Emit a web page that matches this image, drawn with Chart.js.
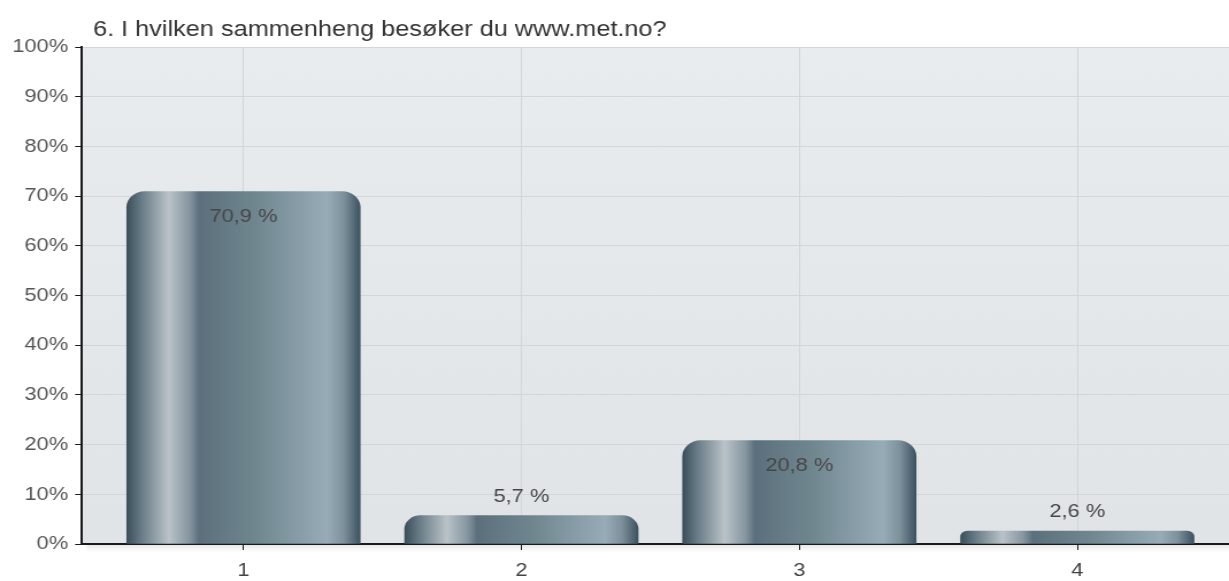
<!DOCTYPE html>
<html>
<head>
  <meta charset="utf-8">
  <script src="https://cdn.jsdelivr.net/npm/chart.js"></script>
  <style>
    html, body { margin: 0; padding: 0; background: #fff; overflow: hidden; }
    /* the original export is stretched sideways, so draw narrow and widen */
    #wrap { width: 1069px; height: 581px; transform: scaleX(1.1497); transform-origin: 0 0; }
  </style>
</head>
<body>
  <div id="wrap"><canvas id="surveyChart"></canvas></div>
  <script>
    const chartTitle = '6. I hvilken sammenheng besøker du www.met.no?';
    const categories = [1, 2, 3, 4];
    const shares = [70.9, 5.7, 20.8, 2.6];
    const shareLabels = ['70,9 %', '5,7 %', '20,8 %', '2,6 %'];
    const yTicks = [0, 10, 20, 30, 40, 50, 60, 70, 80, 90, 100];

    const FONT = "'Liberation Sans', Arial, sans-serif";
    const BAR_W = 203;

    // bar fill: metallic cylinder look, built per bar from its pixel span
    function barFill(ctx) {
      const chart = ctx.chart;
      const xs = chart.scales.x;
      if (!xs || ctx.dataIndex === undefined) return '#6d828e';
      const cx = xs.getPixelForValue(categories[ctx.dataIndex]);
      if (!isFinite(cx)) return '#6d828e';
      const half = BAR_W / 2;
      const g = chart.ctx.createLinearGradient(cx - half, 0, cx + half, 0);
      g.addColorStop(0, '#3b4f5b');
      g.addColorStop(0.06, '#667a85');
      g.addColorStop(0.18, '#bac3c8');
      g.addColorStop(0.27, '#8595a0');
      g.addColorStop(0.31, '#5b707c');
      g.addColorStop(0.55, '#70868f');
      g.addColorStop(0.86, '#97acb7');
      g.addColorStop(0.93, '#7d919c');
      g.addColorStop(1, '#3d5260');
      return g;
    }

    const plotBackground = {
      id: 'plotBackground',
      beforeDraw(chart) {
        const { ctx, chartArea: a } = chart;
        const g = ctx.createLinearGradient(0, a.top, 0, a.bottom);
        g.addColorStop(0, '#e9ecef');
        g.addColorStop(1, '#e1e4e7');
        ctx.save();
        ctx.fillStyle = g;
        ctx.fillRect(a.left, a.top, a.right - a.left, a.bottom - a.top);
        // soft shadow under the base line
        const s = ctx.createLinearGradient(0, a.bottom, 0, a.bottom + 8);
        s.addColorStop(0, 'rgba(0,0,0,0.10)');
        s.addColorStop(1, 'rgba(0,0,0,0)');
        ctx.fillStyle = s;
        ctx.fillRect(a.left + 4, a.bottom, a.right - a.left, 8);
        ctx.restore();
      }
    };

    const titleText = {
      id: 'titleText',
      afterDraw(chart) {
        const { ctx, chartArea: a } = chart;
        ctx.save();
        ctx.font = '22px ' + FONT;
        ctx.fillStyle = '#333';
        ctx.textBaseline = 'middle';
        ctx.fillText(chartTitle, a.left + 9.6, 30);
        ctx.restore();
      }
    };

    const valueLabels = {
      id: 'valueLabels',
      afterDatasetsDraw(chart) {
        const { ctx } = chart;
        const meta = chart.getDatasetMeta(0);
        ctx.save();
        ctx.font = '19px ' + FONT;
        ctx.fillStyle = '#474747';
        ctx.textAlign = 'center';
        ctx.textBaseline = 'middle';
        meta.data.forEach((bar, i) => {
          const h = bar.base - bar.y;
          const y = h > 60 ? bar.y + 25 : bar.y - 19;
          ctx.fillText(shareLabels[i], bar.x, y);
        });
        ctx.restore();
      }
    };

    new Chart(document.getElementById('surveyChart'), {
      type: 'bar',
      data: {
        datasets: [{
          data: categories.map((c, i) => ({ x: c, y: shares[i] })),
          backgroundColor: barFill,
          borderRadius: { topLeft: 16, topRight: 16 },
          borderSkipped: 'start',
          barThickness: BAR_W
        }]
      },
      options: {
        responsive: true,
        maintainAspectRatio: false,
        animation: false,
        layout: { padding: { top: 47, right: 0, left: 0, bottom: 0 } },
        plugins: {
          legend: { display: false },
          tooltip: { enabled: false }
        },
        scales: {
          x: {
            type: 'linear',
            offset: false,
            min: 0.419,
            max: 4.546,
            afterBuildTicks: s => { s.ticks = categories.map(v => ({ value: v })); },
            afterFit: s => { s.height = 37; },
            border: { color: '#1a1a1a', width: 2 },
            grid: { offset: false, color: '#d3d6d9', tickColor: '#1a1a1a', tickLength: 6, lineWidth: 1 },
            ticks: { color: '#444', font: { family: FONT, size: 19 }, padding: 9 }
          },
          y: {
            min: 0,
            max: 100,
            afterBuildTicks: s => { s.ticks = yTicks.map(v => ({ value: v })); },
            afterFit: s => { s.width = 71.3; },
            border: { color: '#1a1a1a', width: 2 },
            grid: { color: '#d3d6d9', tickColor: '#1a1a1a', tickLength: 6, lineWidth: 1 },
            ticks: {
              color: '#555',
              font: { family: FONT, size: 19 },
              padding: 6,
              callback: v => v + '%'
            }
          }
        }
      },
      plugins: [plotBackground, titleText, valueLabels]
    });
  </script>
</body>
</html>
